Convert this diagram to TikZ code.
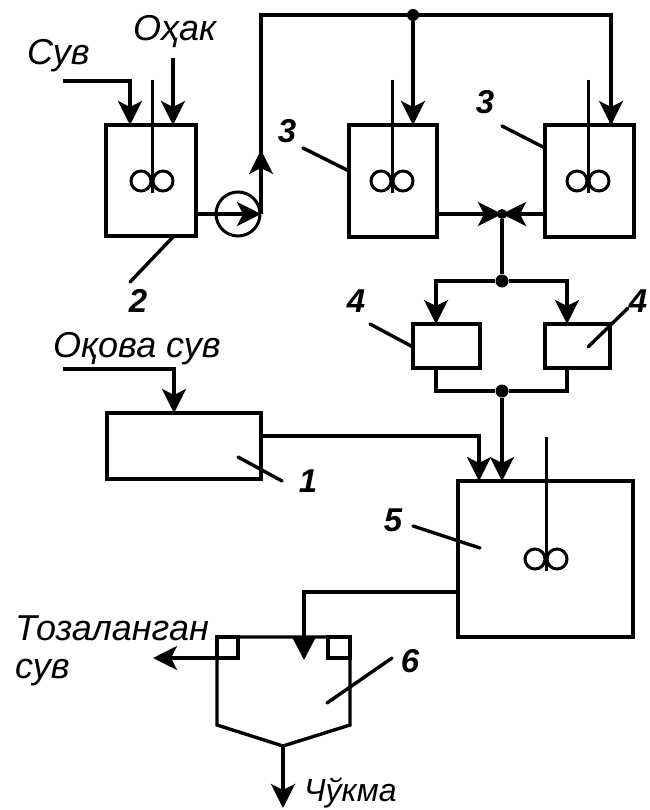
\documentclass[tikz,border=0pt]{standalone}
\usepackage{fontspec}
\setmainfont{Liberation Sans}
\usetikzlibrary{arrows.meta,calc}
\tikzset{
 px/.style={x=1pt,y=-1pt},
 line/.style={line width=3.4pt,line join=miter},
 flow/.style={line,-{Stealth[length=24pt,width=24pt,inset=6pt]}},
 solidflow/.style={line,-{Triangle[length=22pt,width=22pt]}},
 box/.style={draw,line width=3.4pt,inner sep=0pt,outer sep=0pt,anchor=north west},
 lead/.style={line width=3.4pt,line cap=round},
 dot/.style={circle,fill=black,inner sep=0pt,minimum size=13pt},
 lbl/.style={font=\fontsize{36}{36}\selectfont\itshape,inner sep=0pt,anchor=base west},
 num/.style={font=\fontsize{33}{33}\selectfont\bfseries\itshape,inner sep=0pt,anchor=base},
 imp/.style={draw,line width=3pt,circle,inner sep=0pt,outer sep=0pt,minimum size=20pt},
 shaft/.style={line width=3pt},
}
\begin{document}
\begin{tikzpicture}[px]
\useasboundingbox (0,0) rectangle (649,810);
% tanks
\node[box,minimum width=90pt,minimum height=111pt] (t2) at (106,125) {};
\node[box,minimum width=88pt,minimum height=112pt] (t3a) at (349,125) {};
\node[box,minimum width=89pt,minimum height=112pt] (t3b) at (545,125) {};
\node[box,minimum width=67pt,minimum height=44pt] (t4a) at (413,324) {};
\node[box,minimum width=65pt,minimum height=44pt] (t4b) at (545,324) {};
\node[box,minimum width=154pt,minimum height=66pt] (t1) at (107,413) {};
\node[box,minimum width=175pt,minimum height=156pt] (t5) at (458,481) {};
% settler
\coordinate (apex) at (283,746);
\draw[line] (217,637) -- (350,637) -- (350,725) -- (apex) -- (217,725) -- cycle;
\node[box,minimum width=21pt,minimum height=21pt] (wl) at (217,637) {};
\node[box,minimum width=22pt,minimum height=21pt] (wr) at (328,637) {};
% impellers
\foreach \n/\x/\y/\ytop in {i2/152/181/80, i3a/392/181/80, i3b/588/181/80, i5/546/559/437}{
  \node[imp] (\n l) at (\x-11,\y) {};
  \node[imp] (\n r) at (\x+11,\y) {};
  \coordinate (\n top) at (\x,\ytop);
  \coordinate (\n bot) at (\x,\y+12);
  \draw[shaft] (\n top) -- (\n bot);
}
% pump
\node[draw,line width=3pt,circle,inner sep=0pt,outer sep=0pt,minimum size=44pt] (pump) at (238,214) {};
% feeds
\coordinate (suvs) at (63,81);
\coordinate (suvc) at (130,81);
\draw[flow] (suvs) -- (suvc) -- (suvc|-t2.north);
\coordinate (ohs) at (173,58);
\draw[flow] (ohs) -- (ohs|-t2.north);
% pump connections
\coordinate (pe) at (261,214);
\draw[flow] (t2.east|-pump) -- (pe);
\coordinate (top) at (261,15);
\coordinate (tr) at (611,15);
\coordinate (up) at (261,150);
\draw[line] (pe) -- (top) -- (tr) -- (tr|-t3b.north);
\draw[flow] (pe) -- (up);
\draw[flow] (tr) -- (tr|-t3b.north);
\node[dot,minimum size=12pt] (dj1) at (413,15) {};
\draw[flow] (dj1) -- (dj1|-t3a.north);
% valve
\node[dot,minimum size=10pt] (dv) at (502,214) {};
\draw[flow] (t3a.east|-dv) -- (dv.center);
\draw[flow] (t3b.west|-dv) -- (dv.center);
\node[dot] (dj2) at (502,281) {};
\draw[line] (dv) -- (dj2);
\coordinate (al) at (436,281);
\coordinate (ar) at (567,281);
\draw[flow] (dj2) -- (al) -- (al|-t4a.north);
\draw[flow] (dj2) -- (ar) -- (ar|-t4b.north);
\node[dot] (dj3) at (502,391) {};
\draw[line] (al|-t4a.south) -- (436,391) -- (dj3) -- (567,391) -- (ar|-t4b.south);
\draw[flow] (dj3) -- (dj3|-t5.north);
% inflow to 1 and 5
\coordinate (ovs) at (63,369);
\coordinate (ovc) at (174,369);
\draw[flow] (ovs) -- (ovc) -- (ovc|-t1.north);
\coordinate (c15) at (479,436);
\draw[flow] (t1.east|-c15) -- (c15) -- (c15|-t5.north);
% 5 to 6
\coordinate (f1) at (304,592);
\draw[line] (t5.west|-f1) -- (f1) -- (304,637);
\coordinate (ft) at (304,637);
\coordinate (fe) at (304,660);
\draw[solidflow] (ft) -- (fe);
% outlets
\coordinate (owl) at (217,658);
\coordinate (oe) at (153,658);
\draw[flow] (owl) -- (oe);
\coordinate (oc) at (283,808);
\draw[flow] (apex) -- (oc);
% labels
\node[lbl] (lsuv) at (27,65) {Сув};
\node[lbl] (loh) at (133,41) {Оҳак};
\node[lbl] (lov) at (53,357) {Оқова сув};
\node[lbl] (lto) at (15,640) {Тозаланган};
\node[lbl] (lsu) at (15,678) {сув};
\node[lbl,font=\fontsize{32}{32}\selectfont\itshape] (lch) at (304,801) {Чўкма};
\node[num] (n2) at (138,312) {2};
\node[num] (n3a) at (287,143) {3};
\node[num] (n3b) at (485,114) {3};
\node[num] (n4a) at (356,312) {4};
\node[num] (n4b) at (638,312) {4};
\node[num] (n1) at (308,492) {1};
\node[num] (n5) at (393,531) {5};
\node[num] (n6) at (410,672) {6};
% leaders
\draw[lead] (173,237) -- (130,282);
\draw[lead] (303,148) -- (349,171);
\draw[lead] (502,126) -- (545,148);
\draw[lead] (370,324) -- (413,347);
\draw[lead] (588,347) -- (628,308);
\draw[lead] (238,457) -- (282,481);
\draw[lead] (413,526) -- (480,548);
\draw[lead] (392,658) -- (327,703);
\end{tikzpicture}
\end{document}
